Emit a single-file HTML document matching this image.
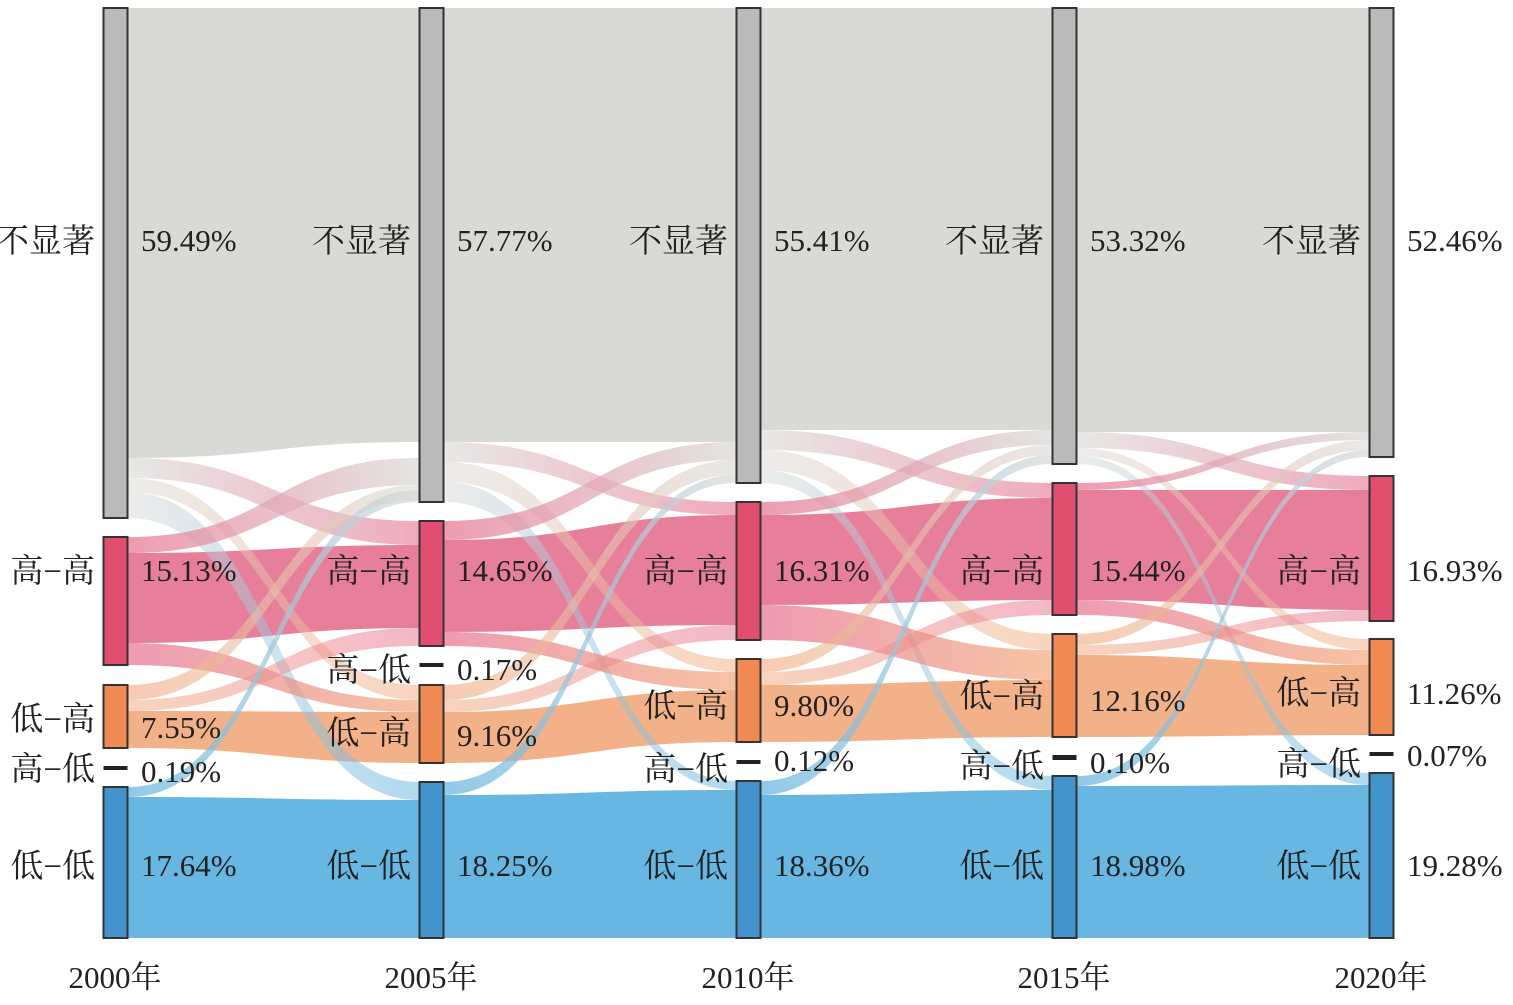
<!DOCTYPE html>
<html><head><meta charset="utf-8">
<style>
html,body{margin:0;padding:0;background:#fff;}
svg text{font-family:"Liberation Serif","Noto Serif CJK SC",serif;font-size:31px;fill:#222;}
svg text.cj{font-size:33px;}
</style></head>
<body>
<svg id="s" width="1513" height="1000" xmlns="http://www.w3.org/2000/svg"><defs id="d"></defs><g id="links"></g><g id="nodes"></g><g id="txt"></g></svg>
<script>
var NS="http://www.w3.org/2000/svg";
var C={g:"#d9d9d6",p:"#e6718f",o:"#f2a97c",b:"#5fb3e0"};
var xs=[103,419,736,1052,1369];
var gid=0;
function link(i,a0,a1,b0,b1,c0,c1,op){
 var x0=xs[i]+25,x1=xs[i+1],m=(x0+x1)/2;
 var d="M"+x0+","+a0+" C"+m+","+a0+" "+m+","+b0+" "+x1+","+b0+" L"+x1+","+b1+" C"+m+","+b1+" "+m+","+a1+" "+x0+","+a1+" Z";
 var p=document.createElementNS(NS,"path");p.setAttribute("d",d);
 var fill=C[c0];
 if(c0!==c1){var id="g"+(gid++);var lg=document.createElementNS(NS,"linearGradient");lg.setAttribute("id",id);lg.setAttribute("gradientUnits","userSpaceOnUse");lg.setAttribute("x1",x0);lg.setAttribute("x2",x1);lg.setAttribute("y1",0);lg.setAttribute("y2",0);
 [[0,C[c0]],[1,C[c1]]].forEach(function(s){var st=document.createElementNS(NS,"stop");st.setAttribute("offset",s[0]);st.setAttribute("stop-color",s[1]);lg.appendChild(st);});
 document.getElementById("d").appendChild(lg);fill="url(#"+id+")";}
 p.setAttribute("fill",fill);p.setAttribute("opacity",op||0.75);
 document.getElementById("links").appendChild(p);
}
function L(i,arr){arr.forEach(function(a){link(i,a[0],a[1],a[2],a[3],a[4],a[5],a[6]);});}
L(0,[[8,458,8,442,"g","g",1],[553,643,545,628,"p","p",0.9],[711,748,712,763,"o","o",0.9],[797,938,800,938,"b","b",0.95]]);
L(1,[[8,442,8,442,"g","g",1],[540,632,515,625,"p","p",0.9],[712,763,690,742,"o","o",0.9],[795,938,790,938,"b","b",0.95]]);
L(2,[[8,430,8,430,"g","g",1],[515,605,498,600,"p","p",0.9],[685,742,680,737,"o","o",0.9],[795,938,790,938,"b","b",0.95]]);
L(3,[[8,432,8,432,"g","g",1],[490,600,490,610,"p","p",0.9],[655,737,665,735,"o","o",0.9],[786,938,785,938,"b","b",0.95]]);
L(0,[[458,478,521,545,"g","p",0.6],[478,492,685,700,"g","o",0.5],[492,518,782,800,"g","b",0.5],
 [537,553,458,485,"p","g",0.7],[643,665,700,712,"p","o",0.7],
 [685,700,485,500,"o","g",0.6],[700,711,628,646,"o","p",0.5],
 [787,797,490,502,"b","g",0.7]]);
L(1,[[442,462,502,515,"g","p",0.6],[462,482,659,672,"g","o",0.5],[482,502,781,790,"g","b",0.5],
 [521,540,442,460,"p","g",0.7],[632,646,672,690,"p","o",0.7],
 [685,700,460,475,"o","g",0.6],[700,712,625,640,"o","p",0.5],
 [782,795,475,483,"b","g",0.7]]);
L(2,[[430,450,483,498,"g","p",0.6],[450,470,634,650,"g","o",0.5],[470,483,776,790,"g","b",0.5],
 [502,515,430,445,"p","g",0.7],[605,640,650,680,"p","o",0.7],
 [659,672,445,455,"o","g",0.6],[672,685,600,615,"o","p",0.5],
 [781,795,455,464,"b","g",0.7]]);
L(3,[[432,448,476,490,"g","p",0.6],[448,456,639,650,"g","o",0.5],[456,464,773,785,"g","b",0.5],
 [483,490,432,440,"p","g",0.7],[600,615,650,665,"p","o",0.7],
 [634,645,440,450,"o","g",0.6],[645,655,610,621,"o","p",0.5],
 [776,786,450,457,"b","g",0.7]]);
var N=[
 [[8,518],[537,665],[685,748],[766,770],[787,938]],
 [[8,502],[521,646],[685,763],[663,667],[782,938]],
 [[8,483],[502,640],[659,742],[760,764],[781,938]],
 [[8,464],[483,615],[634,737],[755,760],[776,938]],
 [[8,457],[476,621],[639,735],[752,756],[773,938]]];
var NC=["#b9bab9","#e04f6d","#ee8a52","#222","#4393cc"];
var g=document.getElementById("nodes");
N.forEach(function(col,i){col.forEach(function(n,k){var r=document.createElementNS(NS,"rect");
 r.setAttribute("x",xs[i]+0.5);r.setAttribute("y",n[0]);r.setAttribute("width",24);r.setAttribute("height",Math.max(n[1]-n[0],3));
 r.setAttribute("fill",NC[k]);if(k!=3){r.setAttribute("stroke","#333");r.setAttribute("stroke-width",2);}g.appendChild(r);});});
var t=document.getElementById("txt");
function T(x,y,s,anchor,cls){var e=document.createElementNS(NS,"text");e.setAttribute("x",x);e.setAttribute("y",y);e.textContent=s;if(anchor)e.setAttribute("text-anchor",anchor);if(cls)e.setAttribute("class",cls);t.appendChild(e);}
var P=[
 [["59.49%",240],["15.13%",570],["7.55%",727],["0.19%",771],["17.64%",865]],
 [["57.77%",240],["14.65%",570],["0.17%",669],["9.16%",735],["18.25%",865]],
 [["55.41%",240],["16.31%",570],["9.80%",705],["0.12%",760],["18.36%",865]],
 [["53.32%",240],["15.44%",570],["12.16%",700],["0.10%",762],["18.98%",865]],
 [["52.46%",240],["16.93%",570],["11.26%",693],["0.07%",755],["19.28%",865]]];
var Lb=[
 [["不显著",240],["高−高",570],["低−高",718],["高−低",768],["低−低",865]],
 [["不显著",240],["高−高",570],["高−低",669],["低−高",732],["低−低",865]],
 [["不显著",240],["高−高",570],["低−高",705],["高−低",768],["低−低",865]],
 [["不显著",240],["高−高",570],["低−高",695],["高−低",765],["低−低",865]],
 [["不显著",240],["高−高",570],["低−高",692],["高−低",763],["低−低",865]]];
xs.forEach(function(x,i){
 P[i].forEach(function(p){T(x+38,p[1]+11,p[0]);});
 Lb[i].forEach(function(p){T(x-8,p[1]+12,p[0],"end","cj");});
 T(x+12,988,["2000","2005","2010","2015","2020"][i]+"年","middle");
});
</script>
</body></html>
